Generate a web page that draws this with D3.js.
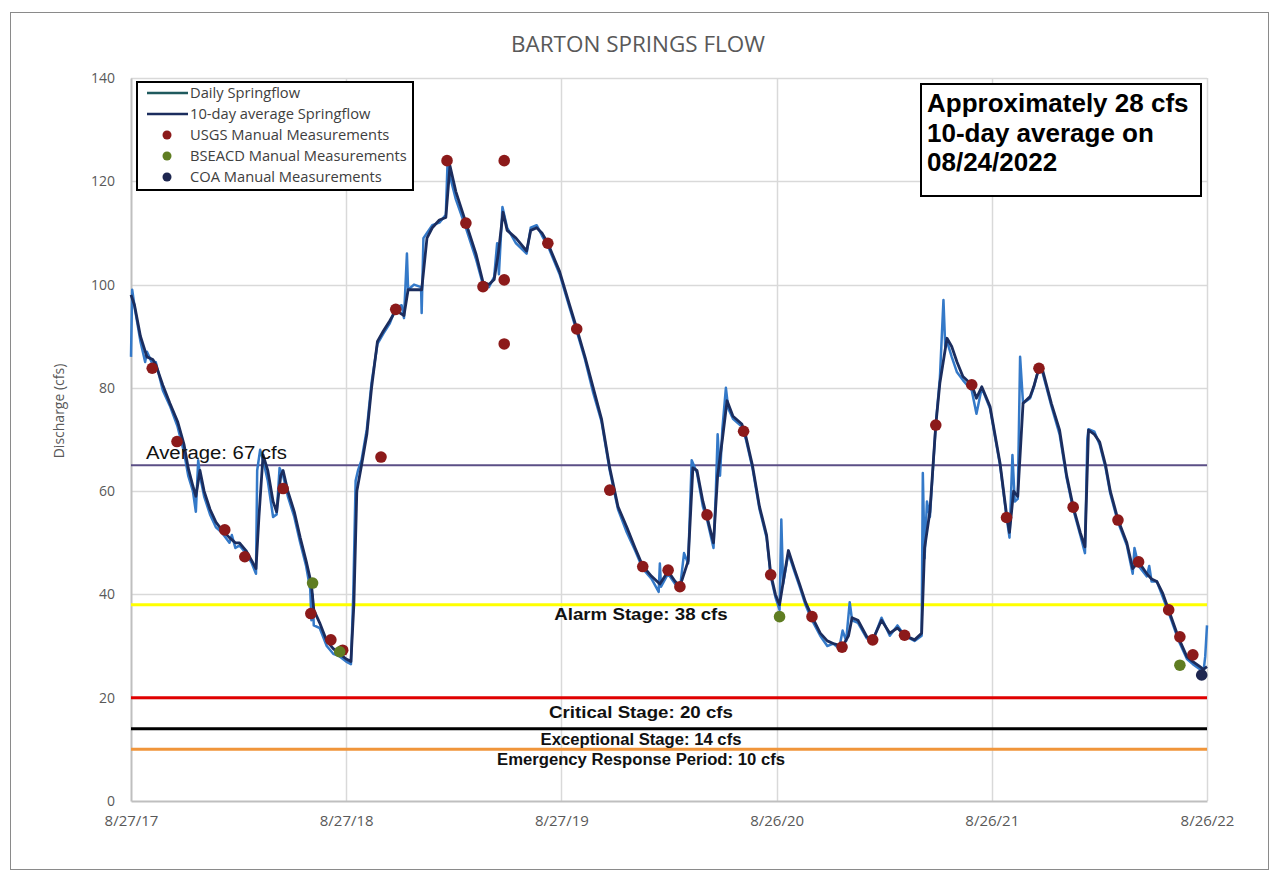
<!DOCTYPE html>
<html><head><meta charset="utf-8">
<script src="https://cdn.jsdelivr.net/npm/d3@7"></script>
<style>
body{margin:0;background:#fff;}
svg{display:block;}
</style></head>
<body><svg id="c" width="1280" height="881"></svg>
<script>
const chartTitle = "BARTON SPRINGS FLOW";
const yTicks = [0,20,40,60,80,100,120,140];
const xTickDates = ["2017-08-27","2018-08-27","2019-08-27","2020-08-26","2021-08-26","2022-08-26"];
const stageNames = ["Average: 67 cfs","Alarm Stage: 38 cfs","Critical Stage: 20 cfs","Exceptional Stage: 14 cfs","Emergency Response Period: 10 cfs"];
const stageValues = [65,38,20,14,10];
const legendNames = ["Daily Springflow","10-day average Springflow","USGS Manual Measurements","BSEACD Manual Measurements","COA Manual Measurements"];
const noteLines = ["Approximately 28 cfs","10-day average on","08/24/2022"];

const dailyFlow = [
["2017-08-27",86],["2017-08-29",99],["2017-09-03",95],["2017-09-12",89],["2017-09-20",85],["2017-09-23",87],
["2017-10-03",84.5],["2017-10-08",85],["2017-10-20",79.5],["2017-11-01",76.5],["2017-11-14",72.5],["2017-11-25",67.5],
["2017-12-02",63],["2017-12-10",60],["2017-12-15",56],["2017-12-19",66],["2017-12-22",63],["2017-12-29",59],
["2018-01-08",55.5],["2018-01-18",53],["2018-01-28",52],["2018-02-10",50],["2018-02-14",51.5],["2018-02-20",49],
["2018-02-27",49.5],["2018-03-10",48],["2018-03-20",46],["2018-03-27",44],["2018-03-29",64],["2018-04-03",68],
["2018-04-08",66],["2018-04-16",62],["2018-04-25",55],["2018-05-01",55.5],["2018-05-06",64.5],["2018-05-12",63],
["2018-05-20",59],["2018-05-31",55],["2018-06-10",50],["2018-06-20",45.5],["2018-06-27",41],["2018-06-29",35],
["2018-07-01",40],["2018-07-03",34],["2018-07-13",33.5],["2018-07-25",30],["2018-08-05",28.5],["2018-08-16",28],
["2018-08-27",27],["2018-09-04",26.5],["2018-09-08",40],["2018-09-12",62],["2018-09-16",64],["2018-09-22",66],
["2018-10-01",72],["2018-10-09",81],["2018-10-19",88.5],["2018-10-29",90.5],["2018-11-09",92.5],["2018-11-19",95.5],
["2018-11-29",96],["2018-12-03",93.5],["2018-12-08",106],["2018-12-10",99],["2018-12-20",100],["2019-01-01",99.5],
["2019-01-02",94.5],["2019-01-05",109],["2019-01-11",110],["2019-01-20",111.5],["2019-02-01",112],["2019-02-12",113.5],
["2019-02-15",124],["2019-02-19",121],["2019-03-01",116.5],["2019-03-18",111],["2019-04-04",105],["2019-04-16",100],
["2019-04-26",99.5],["2019-05-05",101.5],["2019-05-10",108],["2019-05-13",102],["2019-05-19",115],["2019-05-27",111],
["2019-06-11",108],["2019-06-29",106],["2019-07-06",111],["2019-07-16",111.5],["2019-07-25",109.5],["2019-08-04",107.5],
["2019-08-24",102],["2019-09-10",95.5],["2019-09-22",91],["2019-10-06",85.5],["2019-10-20",79],["2019-11-03",73.5],
["2019-11-17",64],["2019-12-01",56.5],["2019-12-16",52],["2019-12-30",48.5],["2020-01-12",45],["2020-01-27",43],
["2020-02-08",40.5],["2020-02-10",46],["2020-02-12",41.5],["2020-02-24",44],["2020-03-07",42],["2020-03-15",41],
["2020-03-22",48],["2020-03-29",46],["2020-04-04",66],["2020-04-13",63.5],["2020-04-23",57],["2020-04-30",54.5],
["2020-05-11",49],["2020-05-15",60],["2020-05-18",71],["2020-05-22",63],["2020-05-26",72],["2020-06-01",80],
["2020-06-05",76],["2020-06-13",74],["2020-06-28",72.5],["2020-07-05",70],["2020-07-16",64.5],["2020-07-28",56.5],
["2020-08-09",51],["2020-08-16",43.5],["2020-08-24",39.5],["2020-08-31",37],["2020-09-03",54.5],["2020-09-06",42],
["2020-09-15",48],["2020-09-25",44.5],["2020-10-04",41.5],["2020-10-14",38],["2020-10-25",35],["2020-11-08",32],
["2020-11-20",30],["2020-11-30",30.5],["2020-12-10",29.5],["2020-12-16",33],["2020-12-22",31],["2020-12-28",38.5],
["2021-01-01",35],["2021-01-11",34.5],["2021-01-26",31.5],["2021-02-05",31],["2021-02-20",35.5],["2021-03-06",32],
["2021-03-19",34],["2021-03-31",32],["2021-04-17",31],["2021-04-29",32],["2021-05-01",63.5],["2021-05-04",47],
["2021-05-08",58],["2021-05-13",55],["2021-05-23",73],["2021-05-30",82],["2021-06-05",97],["2021-06-08",88],
["2021-06-11",89],["2021-06-19",86],["2021-06-28",83],["2021-07-08",81.5],["2021-07-23",79.5],["2021-07-31",75],
["2021-08-09",80],["2021-08-23",76],["2021-09-09",65],["2021-09-20",55],["2021-09-25",51],["2021-09-30",67],
["2021-10-04",58],["2021-10-09",58.5],["2021-10-13",86],["2021-10-18",77],["2021-10-30",78],["2021-11-05",80],
["2021-11-14",84],["2021-11-20",83],["2021-12-05",76.5],["2021-12-19",71],["2021-12-31",62.5],["2022-01-11",56.5],
["2022-01-23",51.5],["2022-01-31",48],["2022-02-04",70],["2022-02-06",72],["2022-02-16",71.5],["2022-02-25",69],
["2022-03-07",64.5],["2022-03-15",59.5],["2022-03-28",54],["2022-04-12",49.5],["2022-04-22",44],["2022-04-25",49],
["2022-05-02",45.5],["2022-05-16",43.5],["2022-05-20",45.5],["2022-05-24",42.5],["2022-06-02",42.5],["2022-06-12",39.5],
["2022-06-22",36.5],["2022-07-06",32],["2022-07-11",30.5],["2022-07-23",27.5],["2022-08-02",26.5],["2022-08-14",25.5],
["2022-08-20",25],["2022-08-23",28],["2022-08-26",34]
];

const avgFlow = [
["2017-08-27",98],["2017-09-02",96],["2017-09-12",90],["2017-09-23",86],["2017-10-03",85.5],["2017-10-08",84.5],
["2017-10-20",80.5],["2017-11-01",77],["2017-11-14",73.5],["2017-11-25",69],["2017-12-02",64.5],["2017-12-10",61],
["2017-12-15",59],["2017-12-22",64],["2017-12-29",60],["2018-01-08",56.5],["2018-01-18",54],["2018-01-28",52.5],
["2018-02-10",51],["2018-02-20",50],["2018-02-27",50],["2018-03-10",48.5],["2018-03-20",46.5],["2018-03-27",45],
["2018-04-01",55],["2018-04-08",67],["2018-04-16",64],["2018-04-25",58],["2018-05-01",56],["2018-05-08",63],
["2018-05-12",64],["2018-05-20",60],["2018-05-31",56],["2018-06-10",51],["2018-06-20",46.5],["2018-06-29",42],
["2018-07-03",37],["2018-07-13",34.5],["2018-07-25",31],["2018-08-05",29.5],["2018-08-16",28.5],["2018-08-27",27.5],
["2018-09-04",27],["2018-09-09",38],["2018-09-14",60],["2018-09-22",65],["2018-10-01",71],["2018-10-09",80],
["2018-10-19",89],["2018-10-29",91],["2018-11-09",93],["2018-11-19",95],["2018-12-03",94],["2018-12-10",99],
["2019-01-02",99],["2019-01-11",109],["2019-01-20",111],["2019-02-01",112.5],["2019-02-12",113],["2019-02-19",123],
["2019-03-01",118],["2019-03-18",112],["2019-04-04",106],["2019-04-16",100.5],["2019-04-26",100],["2019-05-05",101],
["2019-05-12",106],["2019-05-20",114],["2019-05-27",110.5],["2019-06-11",109],["2019-06-29",106.5],["2019-07-06",110.5],
["2019-07-16",111],["2019-07-25",110],["2019-08-04",108],["2019-08-24",102.5],["2019-09-10",96],["2019-09-22",91.5],
["2019-10-06",86],["2019-10-20",80],["2019-11-03",74],["2019-11-17",64.5],["2019-12-01",57],["2019-12-16",53],
["2019-12-30",49],["2020-01-12",45.5],["2020-01-27",43.5],["2020-02-10",42],["2020-02-24",44.5],["2020-03-07",42.5],
["2020-03-15",41.5],["2020-03-29",46.5],["2020-04-06",64.5],["2020-04-13",64],["2020-04-23",58],["2020-04-30",55],
["2020-05-11",50],["2020-05-18",63],["2020-05-26",70],["2020-06-03",77.5],["2020-06-13",74.5],["2020-06-28",73],
["2020-07-05",70.5],["2020-07-16",65],["2020-07-28",57],["2020-08-09",51.5],["2020-08-16",44],["2020-08-24",40],
["2020-08-31",38],["2020-09-07",43],["2020-09-15",48.5],["2020-09-25",45],["2020-10-04",42],["2020-10-14",38.5],
["2020-10-25",35.7],["2020-11-08",32.5],["2020-11-20",31],["2020-11-30",30.5],["2020-12-16",30],["2020-12-26",32],
["2021-01-01",35.5],["2021-01-11",35],["2021-01-26",31.8],["2021-02-05",31.2],["2021-02-20",35],["2021-03-06",32.5],
["2021-03-19",33.5],["2021-03-31",32.1],["2021-04-17",31.2],["2021-04-29",32.5],["2021-05-04",49],["2021-05-13",56],
["2021-05-23",72.8],["2021-05-30",81],["2021-06-11",89.6],["2021-06-19",88],["2021-06-28",85],["2021-07-08",82.2],
["2021-07-23",80.6],["2021-07-31",78],["2021-08-09",80.2],["2021-08-23",76.4],["2021-09-09",65.4],["2021-09-20",55.5],
["2021-09-25",52],["2021-10-02",60],["2021-10-09",59],["2021-10-18",77],["2021-10-30",78.3],["2021-11-05",80.2],
["2021-11-14",83.8],["2021-11-20",83.5],["2021-12-05",77],["2021-12-19",71.8],["2021-12-31",63],["2022-01-11",57],
["2022-01-23",52],["2022-01-31",49.2],["2022-02-06",71.8],["2022-02-16",71],["2022-02-25",69.5],["2022-03-07",65],
["2022-03-15",60],["2022-03-28",54.5],["2022-04-12",50],["2022-04-22",45],["2022-05-02",46.3],["2022-05-16",44],
["2022-05-24",43],["2022-06-02",42.5],["2022-06-12",40.2],["2022-06-22",37],["2022-07-06",32.5],["2022-07-11",31],
["2022-07-23",27.9],["2022-08-02",27],["2022-08-14",26],["2022-08-20",25.5],["2022-08-26",26]
];

const usgsMeasurements = [
["2017-10-02",83.8],["2017-11-13",69.6],["2018-02-02",52.5],["2018-03-08",47.3],["2018-05-12",60.5],["2018-06-28",36.3],
["2018-08-01",31.2],["2018-08-21",29.2],["2018-10-25",66.6],["2018-11-19",95.2],["2019-02-14",124],["2019-03-18",111.9],
["2019-04-16",99.6],["2019-05-22",124],["2019-05-22",100.9],["2019-05-22",88.5],["2019-08-04",108],["2019-09-22",91.4],
["2019-11-17",60.2],["2020-01-12",45.4],["2020-02-24",44.7],["2020-03-15",41.5],["2020-04-30",55.4],["2020-07-01",71.6],
["2020-08-16",43.8],["2020-10-25",35.7],["2020-12-15",29.8],["2021-02-05",31.2],["2021-03-31",32.1],["2021-05-23",72.8],
["2021-07-23",80.6],["2021-09-20",54.9],["2021-11-14",83.8],["2022-01-11",56.9],["2022-03-28",54.4],["2022-05-02",46.3],
["2022-06-22",37],["2022-07-11",31.8],["2022-08-02",28.3]
];
const bseacdMeasurements = [["2018-07-01",42.2],["2018-08-16",28.9],["2020-08-31",35.7],["2022-07-11",26.3]];
const coaMeasurements = [["2022-08-17",24.4]];

// ---- styles ----
const col = {
  daily:"#3479c8", avg:"#1b2d5e", usgs:"#8c1a1a", bseacd:"#5f7d22", coa:"#1e2750",
  stage:["#5b4f86","#ffff00","#e00000","#000000","#f0953a"],
  grid:"#d9d9d9", axis:"#bfbfbf", text:"#595959"
};
const legendLineCols = ["#1f5a5e","#1b2d5e"];

const parse = d3.utcParse("%Y-%m-%d");
const svg = d3.select("#c");
const font = "'Open Sans', 'Liberation Sans', sans-serif";
const arial = "'Liberation Sans', Arial, sans-serif";

const x = d3.scaleUtc().domain([parse("2017-08-27"), parse("2022-08-26")]).range([131, 1207]);
const y = d3.scaleLinear().domain([0,140]).range([801,78]);

// text helper with horizontal stretch
function stretchText(g, px, py, str, sx, anchor){
  return g.append("text").attr("transform",`translate(${px},${py}) scale(${sx},1)`)
    .attr("text-anchor",anchor||"start").text(str);
}

// outer frame
svg.append("rect").attr("x",10.5).attr("y",12.5).attr("width",1258).attr("height",857)
  .attr("fill","#fff").attr("stroke","#8a8a8a").attr("stroke-width",1);

// title
stretchText(svg,638,52,chartTitle,1.07,"middle")
  .attr("font-family",font).attr("font-size",21).attr("fill",col.text);

// horizontal grid
svg.append("g").selectAll("line").data(yTicks.filter(d=>d>0)).join("line")
  .attr("x1",131).attr("x2",1207).attr("y1",d=>Math.round(y(d))+0.5).attr("y2",d=>Math.round(y(d))+0.5)
  .attr("stroke",col.grid).attr("stroke-width",1.5);
// vertical grid
const xt = xTickDates.map(parse);
svg.append("g").selectAll("line").data(xt.slice(1)).join("line")
  .attr("x1",d=>Math.round(x(d))+0.5).attr("x2",d=>Math.round(x(d))+0.5).attr("y1",78).attr("y2",801)
  .attr("stroke",col.grid).attr("stroke-width",1.5);

// axes
const yAxis = d3.axisLeft(y).tickValues(yTicks).tickSize(0).tickPadding(16);
const gy = svg.append("g").attr("transform","translate(131,0)").call(yAxis);
gy.select(".domain").attr("stroke",col.axis).attr("stroke-width",2);
gy.selectAll("text").attr("font-family",font).attr("font-size",14).attr("fill",col.text);

const fmt = d3.utcFormat("%-m/%-d/%y");
const xAxis = d3.axisBottom(x).tickValues(xt).tickFormat(fmt).tickSize(0).tickPadding(14);
const gx = svg.append("g").attr("transform","translate(0,801)").call(xAxis);
gx.select(".domain").attr("stroke",col.axis).attr("stroke-width",2);
gx.selectAll("text").attr("font-family","'Liberation Sans Narrow','Arial Narrow',"+font).attr("font-size",15).attr("fill",col.text);

// y title
svg.append("text").attr("transform","translate(64,411) rotate(-90)").attr("text-anchor","middle")
  .attr("font-family",font).attr("font-size",14).attr("fill",col.text).text("Discharge (cfs)");

// stage lines
svg.append("g").selectAll("line").data(stageValues).join("line")
  .attr("x1",131).attr("x2",1207).attr("y1",d=>y(d)).attr("y2",d=>y(d))
  .attr("stroke",(d,i)=>col.stage[i]).attr("stroke-width",(d,i)=>i===0?2:3);

// series
const line = d3.line().x(d=>x(parse(d[0]))).y(d=>y(d[1]));
svg.append("path").datum(dailyFlow).attr("d",line).attr("fill","none")
  .attr("stroke",col.daily).attr("stroke-width",2.5).attr("stroke-linejoin","round");
svg.append("path").datum(avgFlow).attr("d",line).attr("fill","none")
  .attr("stroke",col.avg).attr("stroke-width",2.8).attr("stroke-linejoin","round");

// stage labels
const labelOffsets = [-6,15,20,16,16];
const labelStretch = [1.13,1.1,1.1,0.98,0.98];
const sl = svg.append("g").attr("font-family",arial).attr("fill","#111");
stageNames.forEach((t,i)=>{
  if(i===0){
    stretchText(sl,146,y(stageValues[i])+labelOffsets[i],t,labelStretch[i],"start").attr("font-size",18);
  } else {
    stretchText(sl,641,y(stageValues[i])+labelOffsets[i],t,labelStretch[i],"middle")
      .attr("font-weight","bold").attr("font-size",17);
  }
});

// measurement points
function dots(data,c,r){
  svg.append("g").selectAll("circle").data(data).join("circle")
   .attr("cx",d=>x(parse(d[0]))).attr("cy",d=>y(d[1])).attr("r",r).attr("fill",c);
}
dots(usgsMeasurements,col.usgs,5.8);
dots(bseacdMeasurements,col.bseacd,5.8);
dots(coaMeasurements,col.coa,5.8);

// legend
const lg = svg.append("g");
lg.append("rect").attr("x",137).attr("y",82).attr("width",276).attr("height",108)
  .attr("fill","#fff").attr("stroke","#000").attr("stroke-width",2);
const ly = [93,114,135,156,177];
const dotCols = [col.usgs,col.bseacd,col.coa];
legendNames.forEach((n,i)=>{
  if(i<2){
    lg.append("line").attr("x1",147).attr("x2",188).attr("y1",ly[i]).attr("y2",ly[i])
      .attr("stroke",legendLineCols[i]).attr("stroke-width",2.5);
  } else {
    lg.append("circle").attr("cx",167).attr("cy",ly[i]).attr("r",4.5).attr("fill",dotCols[i-2]);
  }
  stretchText(lg,190,ly[i]+5,n,1.05,"start").attr("font-family",font).attr("font-size",14)
    .attr("fill","#404040");
});

// note box
const nb = svg.append("g");
nb.append("rect").attr("x",921).attr("y",84).attr("width",280).attr("height",112)
  .attr("fill","#fff").attr("stroke","#000").attr("stroke-width",2);
noteLines.forEach((t,i)=>{
  stretchText(nb,927,112+i*29.5,t,1.04,"start").attr("font-family",arial)
    .attr("font-weight","bold").attr("font-size",25).attr("fill","#000");
});
</script></body></html>
